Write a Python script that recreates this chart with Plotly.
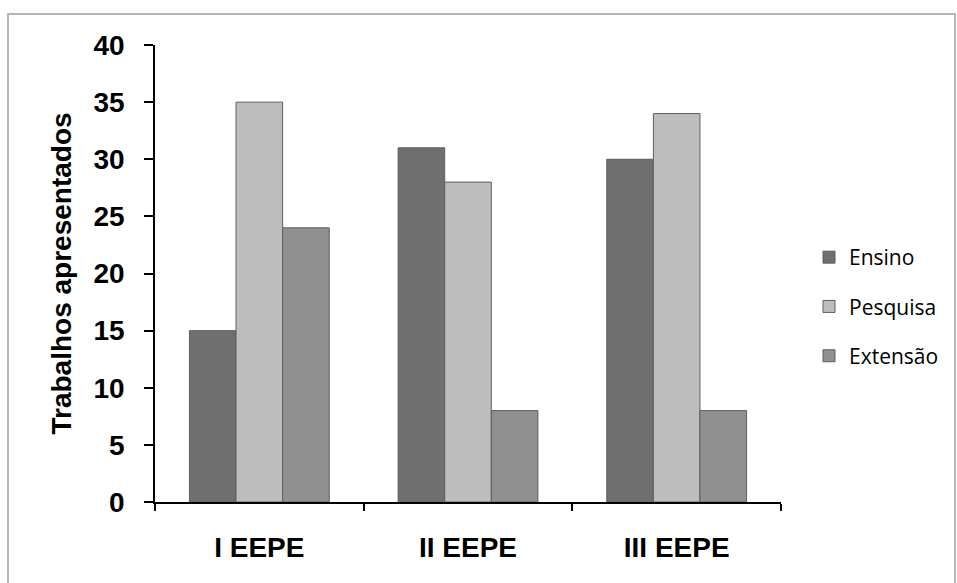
import plotly.graph_objects as go

categories = ["I EEPE", "II EEPE", "III EEPE"]
ensino = [15, 31, 30]
pesquisa = [35, 28, 34]
extensao = [24, 8, 8]
y_ticks = [0, 5, 10, 15, 20, 25, 30, 35, 40]

series = [("Ensino", ensino, "#6f6f6f"), ("Pesquisa", pesquisa, "#bdbdbd"), ("Extensão", extensao, "#909090")]

fig = go.Figure()
for name, vals, col in series:
    fig.add_trace(go.Bar(x=categories, y=vals, name=name, legendgroup=name,
                         marker=dict(color=col, line=dict(color="#5e5e5e", width=1))))

L, R, T, B = 155, 781, 45, 502
W, H = 957, 583
pw, ph = R - L, B - T
bold = dict(size=28, family="Liberation Sans, Arial", weight="bold", color="black")

fig.update_layout(
    width=W, height=H,
    margin=dict(l=L, r=W - R, t=T, b=H - B),
    paper_bgcolor="white", plot_bgcolor="white",
    barmode="group", bargap=0.33, bargroupgap=0,
    font=dict(family="Liberation Sans, Arial", color="black"),
    legend=dict(x=(809 - L) / pw, y=(B - 237) / ph, xanchor="left", yanchor="top",
                font=dict(size=21, family="Open Sans, Liberation Sans", color="black"),
                traceorder="grouped", tracegroupgap=19, itemwidth=30),
    xaxis=dict(showline=True, linecolor="black", linewidth=1.5, ticks="outside",
               tickson="boundaries", ticklen=7, tickcolor="black", tickwidth=1.5,
               tickfont=bold, ticklabelstandoff=20, showgrid=False),
    yaxis=dict(range=[0, 40], tickvals=y_ticks, showline=True, linecolor="black", linewidth=1.5,
               ticks="outside", ticklen=9, tickcolor="black", tickwidth=1.5, showgrid=False,
               zeroline=False, tickfont=bold, ticklabelstandoff=14,
               title=dict(text="Trabalhos apresentados", standoff=14, font=bold)),
    shapes=[dict(type="rect", xref="paper", yref="paper",
                 x0=(8 - L) / pw, x1=(955 - L) / pw, y0=(B - 600) / ph, y1=(B - 14) / ph,
                 line=dict(color="#b5b5b5", width=2), fillcolor="rgba(0,0,0,0)", layer="below")],
)

fig.write_html("out.html", config={"displayModeBar": False},
               post_script="document.body.style.margin='0';")
